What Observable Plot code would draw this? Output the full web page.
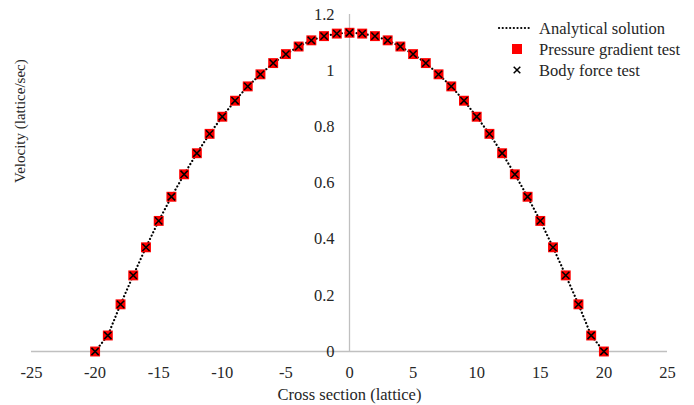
<!DOCTYPE html>
<html>
<head>
<meta charset="utf-8">
<script src="https://cdn.jsdelivr.net/npm/d3@7"></script>
<script src="https://cdn.jsdelivr.net/npm/@observablehq/plot@0.6"></script>
<style>
  body { margin: 0; background: #fff; }
  #wrap { position: relative; width: 694px; height: 405px; }
  #legend { position: absolute; left: 0; top: 0; pointer-events: none; }
</style>
</head>
<body>
<div id="wrap"></div>
<script>
// Data
const crossSection = [-20,-19,-18,-17,-16,-15,-14,-13,-12,-11,-10,-9,-8,-7,-6,-5,-4,-3,-2,-1,0,1,2,3,4,5,6,7,8,9,10,11,12,13,14,15,16,17,18,19,20];
const analytical = [0,0.057,0.168,0.271,0.371,0.465,0.551,0.631,0.706,0.775,0.836,0.893,0.944,0.987,1.027,1.059,1.086,1.108,1.123,1.132,1.135,1.132,1.123,1.108,1.086,1.059,1.027,0.987,0.944,0.893,0.836,0.775,0.706,0.631,0.551,0.465,0.371,0.271,0.168,0.057,0];
const pressureGradient = [0,0.057,0.168,0.271,0.371,0.465,0.551,0.631,0.706,0.775,0.836,0.893,0.944,0.987,1.027,1.059,1.086,1.108,1.123,1.132,1.135,1.132,1.123,1.108,1.086,1.059,1.027,0.987,0.944,0.893,0.836,0.775,0.706,0.631,0.551,0.465,0.371,0.271,0.168,0.057,0];
const bodyForce = [0,0.057,0.168,0.271,0.371,0.465,0.551,0.631,0.706,0.775,0.836,0.893,0.944,0.987,1.027,1.059,1.086,1.108,1.123,1.132,1.135,1.132,1.123,1.108,1.086,1.059,1.027,0.987,0.944,0.893,0.836,0.775,0.706,0.631,0.551,0.465,0.371,0.271,0.168,0.057,0];
const xTicks = [-25,-20,-15,-10,-5,0,5,10,15,20,25];
const xTickLabels = ["-25","-20","-15","-10","-5","0","5","10","15","20","25"];
const yTicks = [0,0.2,0.4,0.6,0.8,1,1.2];
const yTickLabels = ["0","0.2","0.4","0.6","0.8","1","1.2"];
const seriesNames = ["Analytical solution","Pressure gradient test","Body force test"];
const xTitle = "Cross section (lattice)";
const yTitle = "Velocity (lattice/sec)";

const FONT = "Liberation Serif";
const FS = 16.5;
const lineData = crossSection.map((x, i) => ({x, v: analytical[i]}));
const pgData = crossSection.map((x, i) => ({x, v: pressureGradient[i]}));
const bfData = crossSection.map((x, i) => ({x, v: bodyForce[i]}));
const yTickData = yTicks.map((v, i) => ({v, label: yTickLabels[i]}));
const xTickData = xTicks.map((v, i) => ({v, label: xTickLabels[i]}));

const axisGray = "#c0c0c0";
const textColor = "#262626";
const chart = Plot.plot({
  width: 694,
  height: 405,
  marginTop: 14,
  marginBottom: 54,
  marginLeft: 31,
  marginRight: 27,
  style: {fontFamily: FONT, fontSize: FS + "px", color: textColor, background: "#fff"},
  x: {domain: [-25, 25], axis: null},
  y: {domain: [0, 1.2], axis: null},
  marks: [
    Plot.ruleY([0], {stroke: axisGray, strokeWidth: 1.3}),
    Plot.ruleX([0], {stroke: axisGray, strokeWidth: 1.3}),
    Plot.text(xTickData, {x: "v", y: 0, text: "label", dy: 21, lineAnchor: "middle", fontSize: FS, fontFamily: FONT, fill: textColor}),
    Plot.text(yTickData, {x: 0, y: "v", text: "label", dx: -15, textAnchor: "end", fontSize: FS, fontFamily: FONT, fill: textColor}),
    Plot.line(lineData, {x: "x", y: "v", stroke: "#000", strokeWidth: 2.2, strokeDasharray: "0.1,3.6", strokeLinecap: "round"}),
    Plot.dot(pgData, {x: "x", y: "v", symbol: "square", r: 5.6, fill: "#ff0000", stroke: "none"}),
    Plot.dot(bfData, {x: "x", y: "v", symbol: "times", r: 3.4, stroke: "#000", strokeWidth: 1.5}),
    Plot.text([xTitle], {frameAnchor: "bottom", lineAnchor: "middle", dy: 43, fontSize: FS, fontFamily: FONT, fill: textColor}),
    Plot.text([yTitle], {frameAnchor: "left", lineAnchor: "middle", dx: -11, rotate: -90, fontSize: 15, fontFamily: FONT, fill: textColor})
  ]
});
const wrap = document.getElementById("wrap");
wrap.appendChild(chart);

// Legend overlay
const ns = "http://www.w3.org/2000/svg";
const leg = document.createElementNS(ns, "svg");
leg.setAttribute("id", "legend");
leg.setAttribute("width", 694);
leg.setAttribute("height", 405);
const rows = [28, 49, 70];
function el(tag, attrs, text) {
  const e = document.createElementNS(ns, tag);
  for (const k in attrs) e.setAttribute(k, attrs[k]);
  if (text) e.textContent = text;
  leg.appendChild(e);
  return e;
}
el("line", {x1: 499, x2: 531, y1: rows[0], y2: rows[0], stroke: "#000", "stroke-width": 2.2, "stroke-dasharray": "0.1,3.6", "stroke-linecap": "round"});
el("rect", {x: 512, y: rows[1] - 5, width: 10, height: 10, fill: "#ff0000"});
el("path", {d: `M${517-3.3},${rows[2]-3.3}L${517+3.3},${rows[2]+3.3}M${517-3.3},${rows[2]+3.3}L${517+3.3},${rows[2]-3.3}`, stroke: "#000", "stroke-width": 1.5});
seriesNames.forEach((name, i) => {
  el("text", {x: 539, y: rows[i], "dominant-baseline": "central", "font-size": FS, fill: textColor, "font-family": FONT}, name);
});
wrap.appendChild(leg);
</script>
</body>
</html>
